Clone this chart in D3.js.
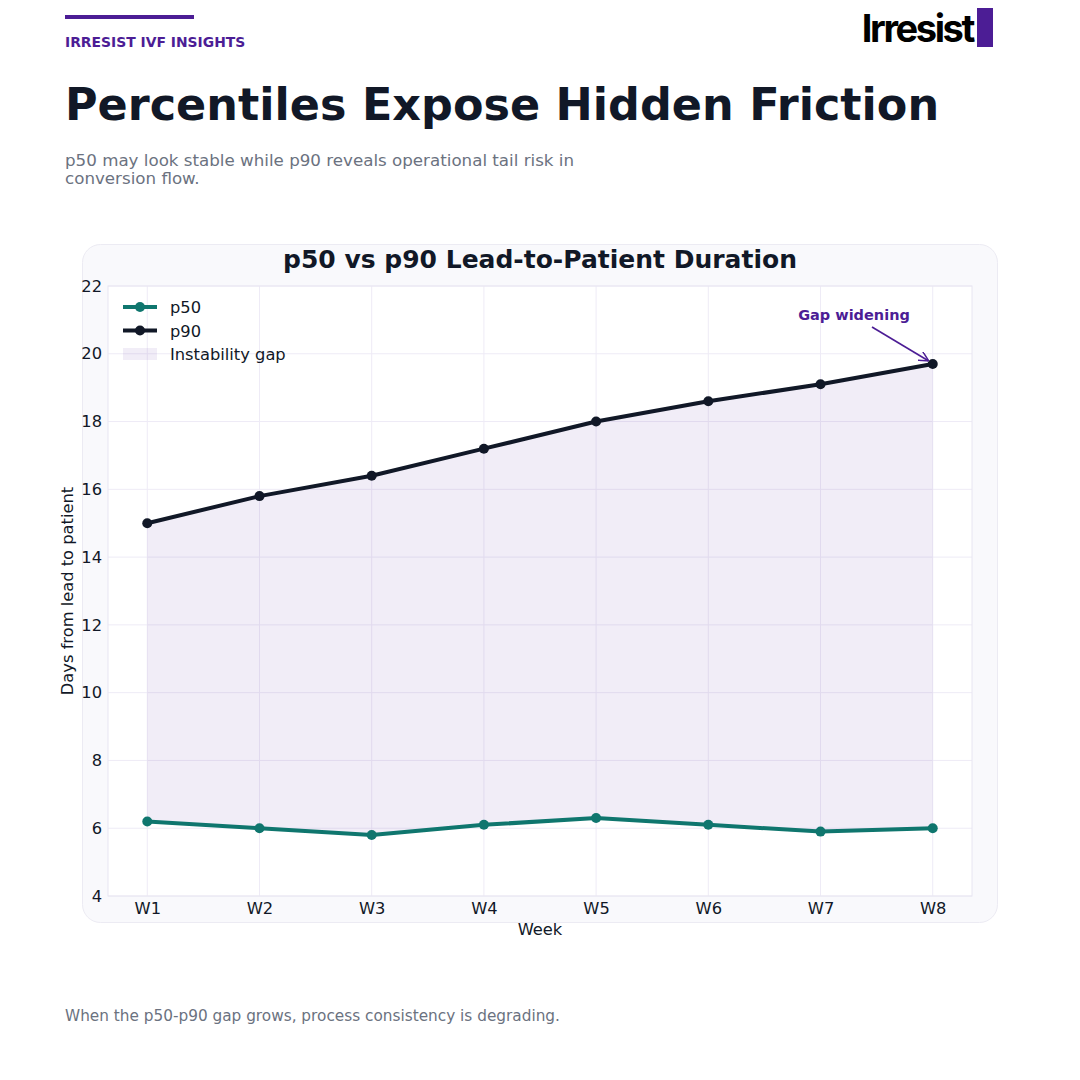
<!DOCTYPE html>
<html>
<head>
<meta charset="utf-8">
<script src="https://cdn.jsdelivr.net/npm/d3@7"></script>
<style>
  body { margin: 0; background: #fff; }
  svg { display: block; }
</style>
</head>
<body>
<svg id="chart"></svg>
<script>
// chart values
var weeks = ["W1", "W2", "W3", "W4", "W5", "W6", "W7", "W8"];
var p50 = [6.2, 6.0, 5.8, 6.1, 6.3, 6.1, 5.9, 6.0];
var p90 = [15.0, 15.8, 16.4, 17.2, 18.0, 18.6, 19.1, 19.7];
var yTicks = [4, 6, 8, 10, 12, 14, 16, 18, 20, 22];

var purple = "#4c1d95";
var teal = "#0f766e";
var ink = "#111827";
var grey = "#6b7280";
var font = "DejaVu Sans, sans-serif";

const W = 1080, H = 1080;
const svg = d3.select("#chart").attr("width", W).attr("height", H);

// header
svg.append("rect").attr("x", 65).attr("y", 15).attr("width", 129).attr("height", 4).attr("fill", purple);
svg.append("text").attr("x", 65).attr("y", 47).text("IRRESIST IVF INSIGHTS")
  .attr("font-family", font).attr("font-size", 13.9).attr("font-weight", "bold").attr("fill", purple);

svg.append("text").attr("x", 65).attr("y", 120).text("Percentiles Expose Hidden Friction")
  .attr("font-family", font).attr("font-size", 44.5).attr("font-weight", "bold").attr("fill", ink);

svg.append("text").attr("font-family", font).attr("font-size", 16.7).attr("fill", grey)
  .selectAll("tspan")
  .data(["p50 may look stable while p90 reveals operational tail risk in", "conversion flow."])
  .join("tspan")
  .attr("x", 65)
  .attr("y", (d, i) => 166 + i * 18)
  .text(d => d);

// logo
svg.append("text").attr("x", 973).attr("y", 42).attr("text-anchor", "end").text("Irresist")
  .attr("font-family", "Inter, sans-serif").attr("font-size", 38).attr("font-weight", "bold")
  .attr("letter-spacing", -2.4).attr("fill", "#000");
svg.append("rect").attr("x", 977).attr("y", 8).attr("width", 16).attr("height", 39).attr("fill", purple);

// card
svg.append("rect").attr("x", 82.5).attr("y", 244.5).attr("width", 915).attr("height", 678)
  .attr("rx", 18).attr("fill", "#f9f9fc").attr("stroke", "#ecebf3");

svg.append("text").attr("x", 540).attr("y", 268).attr("text-anchor", "middle")
  .text("p50 vs p90 Lead-to-Patient Duration")
  .attr("font-family", font).attr("font-size", 25).attr("font-weight", "bold").attr("fill", ink);

// plot area
const pLeft = 108, pRight = 972, pTop = 286, pBottom = 896;

const x = d3.scaleLinear().domain([-0.35, weeks.length - 1 + 0.35]).range([pLeft, pRight]);
const y = d3.scaleLinear().domain([4, 22]).range([pBottom, pTop]);

svg.append("rect").attr("x", pLeft).attr("y", pTop).attr("width", pRight - pLeft).attr("height", pBottom - pTop)
  .attr("fill", "#fff");

const grid = svg.append("g").attr("stroke", "#eeebf6").attr("stroke-width", 1);
grid.selectAll("line.gy").data(yTicks).join("line")
  .attr("x1", pLeft).attr("x2", pRight)
  .attr("y1", d => y(d)).attr("y2", d => y(d));
grid.selectAll("line.gx").data(weeks).join("line")
  .attr("y1", pTop).attr("y2", pBottom)
  .attr("x1", (d, i) => x(i)).attr("x2", (d, i) => x(i));

// gap area
const area = d3.area()
  .x((d, i) => x(i))
  .y0((d, i) => y(p50[i]))
  .y1((d, i) => y(p90[i]));
svg.append("path").datum(weeks).attr("d", area)
  .attr("fill", purple).attr("fill-opacity", 0.08);

// spines
svg.append("rect").attr("x", pLeft).attr("y", pTop).attr("width", pRight - pLeft).attr("height", pBottom - pTop)
  .attr("fill", "none").attr("stroke", "#e8e6f1");

// axes
const xAxis = svg.append("g").attr("transform", `translate(0,${pBottom})`)
  .call(d3.axisBottom(x).tickValues(d3.range(weeks.length)).tickFormat(i => weeks[i]).tickSize(0).tickPadding(6));
const yAxis = svg.append("g").attr("transform", `translate(${pLeft},0)`)
  .call(d3.axisLeft(y).tickValues(yTicks).tickSize(0).tickPadding(6));
[xAxis, yAxis].forEach(a => {
  a.select(".domain").remove();
  a.selectAll("text").attr("font-family", font).attr("font-size", 16.3).attr("fill", ink);
});

svg.append("text").attr("x", 540).attr("y", 935).attr("text-anchor", "middle").text("Week")
  .attr("font-family", font).attr("font-size", 16.3).attr("fill", ink);
svg.append("text").attr("transform", `translate(73,${(pTop + pBottom) / 2}) rotate(-90)`)
  .attr("text-anchor", "middle").text("Days from lead to patient")
  .attr("font-family", font).attr("font-size", 16.3).attr("fill", ink);

// lines
const line = d3.line().x((d, i) => x(i)).y(d => y(d));
[[p50, teal], [p90, ink]].forEach(([vals, col]) => {
  svg.append("path").datum(vals).attr("d", line)
    .attr("fill", "none").attr("stroke", col).attr("stroke-width", 4).attr("stroke-linejoin", "round");
  svg.append("g").selectAll("circle").data(vals).join("circle")
    .attr("cx", (d, i) => x(i)).attr("cy", d => y(d)).attr("r", 5).attr("fill", col);
});

// annotation
svg.append("defs").append("marker").attr("id", "arr").attr("viewBox", "0 0 10 10")
  .attr("refX", 10).attr("refY", 5).attr("markerWidth", 10).attr("markerHeight", 10)
  .attr("markerUnits", "userSpaceOnUse").attr("orient", "auto")
  .append("path").attr("d", "M0,0 L10,5 L0,10").attr("fill", "none").attr("stroke", purple).attr("stroke-width", 1.5);
const last = weeks.length - 1;
svg.append("line").attr("x1", 872).attr("y1", 327).attr("x2", x(last) - 4).attr("y2", y(p90[last]) - 3)
  .attr("stroke", purple).attr("stroke-width", 1.6).attr("marker-end", "url(#arr)");
svg.append("text").attr("x", 854).attr("y", 320).attr("text-anchor", "middle").text("Gap widening")
  .attr("font-family", font).attr("font-size", 14.5).attr("font-weight", "bold").attr("fill", purple);

// legend
const legend = svg.append("g").attr("font-family", font).attr("font-size", 16.3).attr("fill", ink);
const legItems = [["p50", teal, "line"], ["p90", ink, "line"], ["Instability gap", purple, "patch"]];
legItems.forEach(([label, col, kind], i) => {
  const ly = 307 + i * 23.5;
  if (kind === "line") {
    legend.append("line").attr("x1", 123).attr("x2", 157).attr("y1", ly).attr("y2", ly)
      .attr("stroke", col).attr("stroke-width", 4);
    legend.append("circle").attr("cx", 140).attr("cy", ly).attr("r", 5).attr("fill", col);
  } else {
    legend.append("rect").attr("x", 123).attr("y", ly - 6).attr("width", 34).attr("height", 12)
      .attr("fill", col).attr("fill-opacity", 0.08);
  }
  legend.append("text").attr("x", 170).attr("y", ly + 6).text(label);
});

// footer
svg.append("text").attr("x", 65).attr("y", 1021).text("When the p50-p90 gap grows, process consistency is degrading.")
  .attr("font-family", font).attr("font-size", 15.3).attr("fill", grey);
</script>
</body>
</html>
